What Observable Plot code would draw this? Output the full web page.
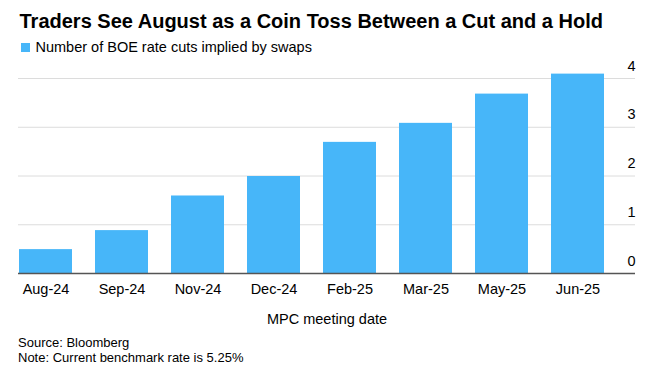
<!DOCTYPE html>
<html><head><meta charset="utf-8">
<script src="https://cdn.jsdelivr.net/npm/d3@7"></script>
<script src="https://cdn.jsdelivr.net/npm/@observablehq/plot@0.6"></script>
<style>
body{margin:0;background:#fff;font-family:"Liberation Sans",Arial,Helvetica,sans-serif;color:#000;}
#wrap{width:661px;height:373px;position:relative;overflow:hidden;}
.title{font-weight:bold;font-size:20px;line-height:24px;padding:9px 0 0 19.5px;height:24px;white-space:nowrap;}
.legend{font-size:14.5px;line-height:18px;margin-top:5px;padding-left:20.5px;display:flex;align-items:center;height:18px;white-space:nowrap;}
.sw{width:9px;height:9px;background:#47b6f9;margin-right:6px;flex:none;}
#chart svg{display:block;}
.foot{font-size:13px;line-height:15px;padding-left:18px;margin-top:5px;white-space:nowrap;}
</style>
</head>
<body>
<div id="wrap">
  <div class="title">Traders See August as a Coin Toss Between a Cut and a Hold</div>
  <div class="legend"><span class="sw"></span><span>Number of BOE rate cuts implied by swaps</span></div>
  <div id="chart"></div>
  <div class="foot">Source: Bloomberg<br>Note: Current benchmark rate is 5.25%</div>
</div>
<script>
const months = ["Aug-24","Sep-24","Nov-24","Dec-24","Feb-25","Mar-25","May-25","Jun-25"];
const cuts = [0.49, 0.88, 1.59, 1.99, 2.69, 3.08, 3.68, 4.09];
const yTicks = [0, 1, 2, 3, 4];
const xLabel = "MPC meeting date";

const data = months.map((m, i) => ({month: m, cuts: cuts[i]}));

const chart = Plot.plot({
  width: 661,
  height: 274,
  marginTop: 22,
  marginBottom: 57,
  marginLeft: 18,
  marginRight: 26,
  style: {fontFamily: '"Liberation Sans", Arial, Helvetica, sans-serif', fontSize: "14.5px", color: "#000", background: "transparent"},
  x: {domain: months, range: [18, 605], paddingInner: 0.3, paddingOuter: 0, label: null},
  y: {domain: [0, 4], label: null},
  marks: [
    Plot.ruleY(yTicks.filter(d => d > 0), {stroke: "#dcdcdc", strokeWidth: 1}),
    Plot.barY(data, {x: "month", y: "cuts", fill: "#47b6f9"}),
    Plot.ruleY([0], {stroke: "#555", strokeWidth: 1.5}),
    Plot.axisX({tickSize: 0, tickPadding: 10, label: null}),
    Plot.axisY({ticks: yTicks, tickFormat: d3.format("d"), anchor: "right", tickSize: 0, tickPadding: 0, textAnchor: "end", lineAnchor: "bottom", dy: -8, label: null}),
    Plot.text([xLabel], {text: d => d, frameAnchor: "bottom", lineAnchor: "bottom", dy: 50, fill: "#000"})
  ]
});
document.getElementById("chart").appendChild(chart);
</script>
</body></html>
